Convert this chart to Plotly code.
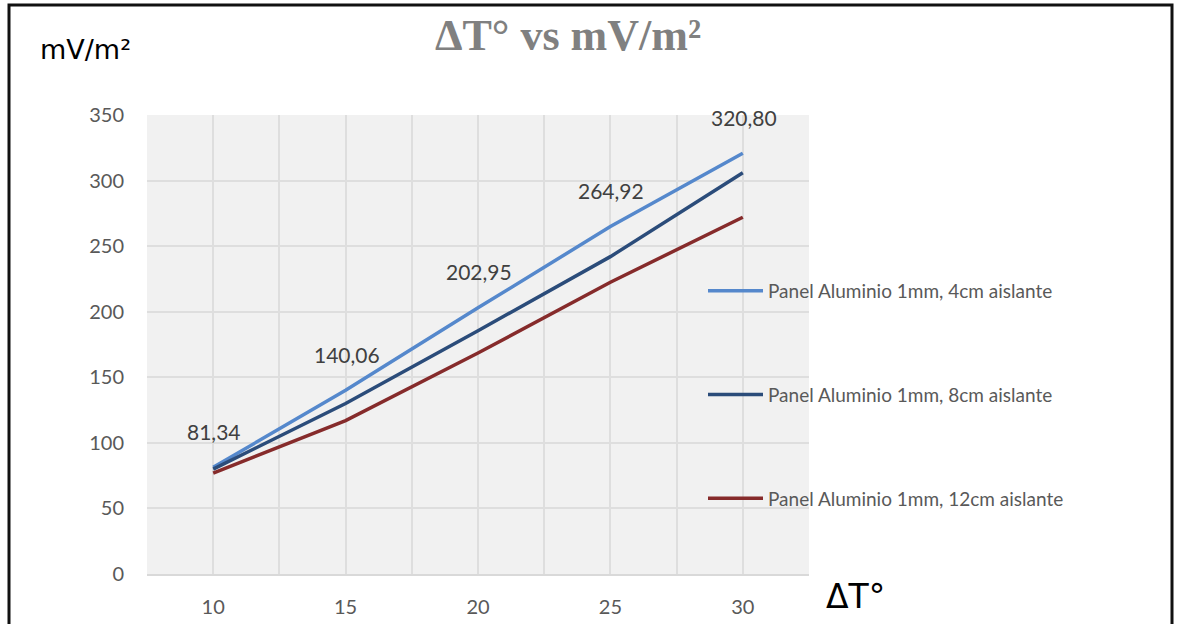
import plotly.graph_objects as go

delta_t = [10, 15, 20, 25, 30]
serie_4cm = [81.34, 140.06, 202.95, 264.92, 320.80]
serie_8cm = [80.0, 130.0, 185.5, 242.0, 306.0]
serie_12cm = [77.0, 117.0, 168.5, 222.5, 272.0]
names = ["Panel Aluminio 1mm, 4cm aislante",
         "Panel Aluminio 1mm, 8cm aislante",
         "Panel Aluminio 1mm, 12cm aislante"]
colors = ["#5588cc", "#2b4c7a", "#862b2b"]
y_ticks = [0, 50, 100, 150, 200, 250, 300, 350]
x_ticks = [10, 15, 20, 25, 30]

W, H = 1177, 624
# plot area in page pixels
L, R, T, B = 147, 809, 115, 574


def px_x(p):
    return (p - L) / (R - L)


def px_y(p):
    return (B - p) / (B - T)


fig = go.Figure()
for i, (name, ys) in enumerate(zip(names, [serie_4cm, serie_8cm, serie_12cm])):
    fig.add_trace(go.Scatter(x=delta_t, y=ys, mode="lines", name=name,
                             legendgroup=f"g{i}",
                             line=dict(color=colors[i], width=3.5)))

annotations = []
for x, v in zip(delta_t, serie_4cm):
    annotations.append(dict(x=x, y=v, xref="x", yref="y", text=f"{v:.2f}".replace(".", ","),
                            showarrow=False, yshift=36, xshift=1,
                            font=dict(family="Lato, Carlito, sans-serif", size=21, color="#404040")))

annotations.append(dict(x=px_x(85), y=px_y(49), xref="paper", yref="paper", text="mV/m²",
                        xanchor="center", yanchor="middle", showarrow=False,
                        font=dict(family="DejaVu Sans, sans-serif", size=27, color="#000000")))
annotations.append(dict(x=px_x(855), y=px_y(596), xref="paper", yref="paper", text="ΔT°",
                        xanchor="center", yanchor="middle", showarrow=False,
                        font=dict(family="DejaVu Sans, sans-serif", size=33, color="#000000")))

fig.update_layout(
    width=W, height=H,
    margin=dict(l=L, r=W - R, t=T, b=H - B, autoexpand=False),
    paper_bgcolor="white",
    plot_bgcolor="#f1f1f1",
    title=dict(text="<b>ΔT° vs mV/m²</b>", x=px_x(568), xanchor="center", xref="paper",
               y=1 - 35 / H, yanchor="middle",
               font=dict(family="Liberation Serif, serif", size=44, color="#808080")),
    showlegend=True,
    legend=dict(x=px_x(703), y=px_y(272), xanchor="left", yanchor="top", xref="paper", yref="paper",
                bgcolor="rgba(0,0,0,0)", tracegroupgap=76, itemwidth=55,
                font=dict(family="Lato, Carlito, sans-serif", size=19, color="#595959")),
    annotations=annotations,
    shapes=[dict(type="rect", xref="paper", yref="paper",
                 x0=px_x(9), x1=px_x(1172), y0=px_y(640), y1=px_y(5),
                 line=dict(color="#111111", width=3), fillcolor="rgba(0,0,0,0)", layer="below")],
)

fig.update_xaxes(range=[7.5, 32.5], tickvals=x_ticks, ticktext=[str(t) for t in x_ticks],
                 showgrid=False, zeroline=False, automargin=False,
                 showline=True, linecolor="#d9d9d9", linewidth=2,
                 ticks="", ticklabelstandoff=14,
                 minor=dict(dtick=2.5, tick0=7.5, showgrid=True, gridcolor="#dedede", gridwidth=2),
                 tickfont=dict(family="Lato, Carlito, sans-serif", size=20, color="#595959"))
fig.update_yaxes(range=[0, 350], tickvals=y_ticks, showgrid=True, gridcolor="#dedede", gridwidth=2,
                 zeroline=False, showline=False, ticks="", ticklabelstandoff=22, automargin=False,
                 tickfont=dict(family="Lato, Carlito, sans-serif", size=20, color="#595959"))

fig.write_html("out.html", config={"displayModeBar": False},
               post_script="document.body.style.margin='0';document.body.style.overflow='hidden';")
